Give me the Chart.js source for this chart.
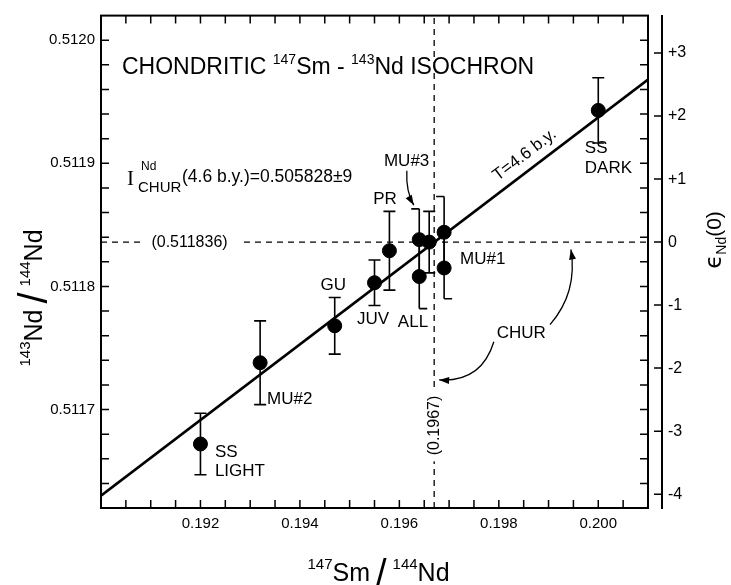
<!DOCTYPE html>
<html>
<head>
<meta charset="utf-8">
<script src="https://cdn.jsdelivr.net/npm/chart.js@4/dist/chart.umd.min.js"></script>
<style>
  html, body { margin: 0; padding: 0; background: #fff; }
  #wrap { width: 731px; height: 585px; }
</style>
</head>
<body>
<div id="wrap"><canvas id="myChart"></canvas></div>
<script>
// samples (147Sm/144Nd, 143Nd/144Nd, 2 sigma)
const sampleNames = ["SS LIGHT", "MU#2", "GU", "JUV", "PR", "MU#3", "ALL", "ALL b", "MU#1 a", "MU#1", "SS DARK"];
const smNd = [0.1920, 0.1932, 0.1947, 0.1955, 0.1958, 0.1964, 0.1964, 0.1966, 0.1969, 0.1969, 0.2000];
const ndNd = [0.511672, 0.511738, 0.511768, 0.511803, 0.511829, 0.511838, 0.511808, 0.511836, 0.511844, 0.511815, 0.511943];
const ndErr = [0.000025, 0.000034, 0.000023, 0.0000185, 0.000032, 0.000025, 0.000026, 0.000025, 0.000029, 0.000025, 0.0000265];
// which caps each bar gets: both / top cap to the left only / bottom cap to the right only
const capSide = ["both", "both", "both", "both", "both", "topLeft", "bottomRight", "both", "topLeft", "bottomRight", "both"];

// 4.6 b.y. isochron end points
const isoX = [0.190, 0.201];
const isoY = [0.51163, 0.511968];

const churSmNd = 0.1967;
const churNdNd = 0.511836;

const xTicks = [0.192, 0.194, 0.196, 0.198, 0.200];
const xTickLabels = ["0.192", "0.194", "0.196", "0.198", "0.200"];
const yTicks = [0.5117, 0.5118, 0.5119, 0.5120];
const yTickLabels = ["0.5117", "0.5118", "0.5119", "0.5120"];
const epsTicks = [-4, -3, -2, -1, 0, 1, 2, 3];
const epsTickLabels = ["-4", "-3", "-2", "-1", "0", "+1", "+2", "+3"];

const xMin = 0.190, xMax = 0.201;
const yMin = 0.51162, yMax = 0.51202;
const toEps = r => (r / churNdNd - 1) * 1e4;

const FONT = "Liberation Sans";

// text put on the plot, in data units
const notes = [
  { t: "SS", x: 0.19229, y: 0.511665 },
  { t: "LIGHT", x: 0.19229, y: 0.51165 },
  { t: "MU#2", x: 0.19334, y: 0.511708 },
  { t: "GU", x: 0.19467, y: 0.511801, align: "center" },
  { t: "JUV", x: 0.19515, y: 0.511773 },
  { t: "ALL", x: 0.19597, y: 0.511771 },
  { t: "PR", x: 0.19571, y: 0.511871, align: "center" },
  { t: "MU#3", x: 0.19569, y: 0.511902 },
  { t: "MU#1", x: 0.19722, y: 0.511822 },
  { t: "SS", x: 0.19973, y: 0.511912 },
  { t: "DARK", x: 0.19973, y: 0.511896 },
  { t: "CHUR", x: 0.19845, y: 0.511762, align: "center" }
];

const arrows = [
  { from: [0.19615, 0.511894], ctrl: [0.19613, 0.511877], to: [0.19629, 0.511866] },
  { from: [0.19903, 0.511769], ctrl: [0.19959, 0.511795], to: [0.19945, 0.51183] },
  { from: [0.19790, 0.511755], ctrl: [0.19765, 0.511722], to: [0.19680, 0.511724] }
];

function richText(ctx, parts, x, y, align) {
  let w = 0;
  for (const p of parts) {
    ctx.font = p.size + "px " + (p.family || FONT);
    p.w = ctx.measureText(p.t).width + (p.gap || 0);
    w += p.w;
  }
  let cx = align === "center" ? x - w / 2 : x;
  for (const p of parts) {
    ctx.font = p.size + "px " + (p.family || FONT);
    ctx.fillText(p.t, cx + (p.gap || 0) / 2, y + (p.dy || 0));
    cx += p.w;
  }
}

const errorBars = {
  id: "errorBars",
  beforeDatasetsDraw(chart) {
    const { ctx, scales: { x, y } } = chart;
    ctx.save();
    ctx.strokeStyle = "#000";
    ctx.lineWidth = 1.6;
    smNd.forEach((v, i) => {
      const px = x.getPixelForValue(v);
      const top = y.getPixelForValue(ndNd[i] + ndErr[i]);
      const bot = y.getPixelForValue(ndNd[i] - ndErr[i]);
      ctx.beginPath();
      ctx.moveTo(px, top);
      ctx.lineTo(px, bot);
      if (capSide[i] === "both") {
        ctx.moveTo(px - 6, top); ctx.lineTo(px + 6, top);
        ctx.moveTo(px - 6, bot); ctx.lineTo(px + 6, bot);
      } else if (capSide[i] === "topLeft") {
        ctx.moveTo(px - 8, top); ctx.lineTo(px, top);
      } else {
        ctx.moveTo(px, bot); ctx.lineTo(px + 8, bot);
      }
      ctx.stroke();
    });
    ctx.restore();
  }
};

const frameAndText = {
  id: "frameAndText",
  afterDatasetsDraw(chart) {
    const { ctx, chartArea: a, scales } = chart;
    const x = scales.x, y = scales.y, eps = scales.eps;
    ctx.save();
    ctx.strokeStyle = "#000";
    ctx.fillStyle = "#000";

    // frame
    ctx.lineWidth = 2;
    ctx.strokeRect(a.left, a.top, a.right - a.left, a.bottom - a.top);

    // inward ticks
    ctx.lineWidth = 1.5;
    ctx.beginPath();
    const nx = Math.round((xMax - xMin) / 0.0005);
    for (let i = 1; i < nx; i++) {
      const px = x.getPixelForValue(xMin + i * 0.0005);
      ctx.moveTo(px, a.bottom); ctx.lineTo(px, a.bottom - 8);
      ctx.moveTo(px, a.top); ctx.lineTo(px, a.top + 8);
    }
    const ny = Math.round((yMax - yMin) / 0.00002);
    for (let i = 1; i < ny; i++) {
      const py = y.getPixelForValue(yMin + i * 0.00002);
      ctx.moveTo(a.left, py); ctx.lineTo(a.left + 8, py);
      ctx.moveTo(a.right, py); ctx.lineTo(a.right - 8, py);
    }
    epsTicks.forEach(v => {
      const py = eps.getPixelForValue(v);
      ctx.moveTo(eps.left, py); ctx.lineTo(eps.left - 8, py);
    });
    ctx.stroke();

    // labels on the dashed lines
    ctx.textBaseline = "middle";
    ctx.font = "16px " + FONT;
    let t = "(0.511836)";
    let w = ctx.measureText(t).width;
    let cx = x.getPixelForValue(0.19178), cy = y.getPixelForValue(churNdNd);
    ctx.fillStyle = "#fff";
    ctx.fillRect(cx - w / 2 - 10, cy - 4, w + 22, 8);
    ctx.fillStyle = "#000";
    ctx.textAlign = "center";
    ctx.fillText(t, cx, cy);

    t = "(0.1967)";
    w = ctx.measureText(t).width;
    ctx.save();
    ctx.translate(x.getPixelForValue(churSmNd), y.getPixelForValue(0.511687));
    ctx.rotate(-Math.PI / 2);
    ctx.fillStyle = "#fff";
    ctx.fillRect(-w / 2 - 6, -4, w + 12, 8);
    ctx.fillStyle = "#000";
    ctx.fillText(t, 0, 0);
    ctx.restore();

    // sample labels
    ctx.font = "17px " + FONT;
    notes.forEach(n => {
      ctx.textAlign = n.align || "left";
      ctx.fillText(n.t, x.getPixelForValue(n.x), y.getPixelForValue(n.y));
    });

    // T=4.6 b.y. along the isochron
    const x1 = x.getPixelForValue(isoX[0]), y1 = y.getPixelForValue(isoY[0]);
    const x2 = x.getPixelForValue(isoX[1]), y2 = y.getPixelForValue(isoY[1]);
    const ang = Math.atan2(y2 - y1, x2 - x1);
    const f = (0.1987 - isoX[0]) / (isoX[1] - isoX[0]);
    const lx = x1 + f * (x2 - x1), ly = y1 + f * (y2 - y1);
    ctx.save();
    ctx.translate(lx + Math.sin(ang) * 10, ly - Math.cos(ang) * 10);
    ctx.rotate(ang);
    ctx.textAlign = "center";
    ctx.textBaseline = "alphabetic";
    ctx.font = "17px " + FONT;
    ctx.fillText("T=4.6 b.y.", 0, 0);
    ctx.restore();

    // arrows
    ctx.lineWidth = 1.3;
    arrows.forEach(ar => {
      const p0 = [x.getPixelForValue(ar.from[0]), y.getPixelForValue(ar.from[1])];
      const pc = [x.getPixelForValue(ar.ctrl[0]), y.getPixelForValue(ar.ctrl[1])];
      const p1 = [x.getPixelForValue(ar.to[0]), y.getPixelForValue(ar.to[1])];
      ctx.beginPath();
      ctx.moveTo(p0[0], p0[1]);
      ctx.quadraticCurveTo(pc[0], pc[1], p1[0], p1[1]);
      ctx.stroke();
      const a2 = Math.atan2(p1[1] - pc[1], p1[0] - pc[0]);
      ctx.beginPath();
      ctx.moveTo(p1[0], p1[1]);
      ctx.lineTo(p1[0] - 10 * Math.cos(a2) + 3.5 * Math.sin(a2), p1[1] - 10 * Math.sin(a2) - 3.5 * Math.cos(a2));
      ctx.lineTo(p1[0] - 10 * Math.cos(a2) - 3.5 * Math.sin(a2), p1[1] - 10 * Math.sin(a2) + 3.5 * Math.cos(a2));
      ctx.closePath();
      ctx.fill();
    });

    // heading
    ctx.textAlign = "left";
    ctx.textBaseline = "alphabetic";
    richText(ctx, [
      { t: "CHONDRITIC ", size: 23 },
      { t: "147", size: 14, dy: -10 },
      { t: "Sm - ", size: 23 },
      { t: "143", size: 14, dy: -10 },
      { t: "Nd ISOCHRON", size: 23 }
    ], 122, 74);

    // I CHUR note
    ctx.font = "21px Liberation Serif";
    ctx.fillText("I", 127, 185);
    ctx.font = "12px " + FONT;
    ctx.fillText("Nd", 141, 170);
    ctx.font = "15px " + FONT;
    ctx.fillText("CHUR", 138, 192);
    ctx.font = "17.5px " + FONT;
    ctx.fillText("(4.6 b.y.)=0.505828\u00b19", 182, 182);

    // axis titles
    const bx = (a.left + a.right) / 2;
    richText(ctx, [
      { t: "147", size: 15, dy: -12 },
      { t: "Sm", size: 25 },
      { t: "/", size: 38, dy: 5, gap: 12 },
      { t: "144", size: 15, dy: -12 },
      { t: "Nd", size: 25 }
    ], bx + 4, 581, "center");

    ctx.save();
    ctx.translate(42, 298);
    ctx.rotate(-Math.PI / 2);
    richText(ctx, [
      { t: "143", size: 15, dy: -12 },
      { t: "Nd", size: 25 },
      { t: "/", size: 40, dy: 5, gap: 12 },
      { t: "144", size: 15, dy: -12 },
      { t: "Nd", size: 25 }
    ], 0, 0, "center");
    ctx.restore();

    ctx.save();
    ctx.translate(721, 240);
    ctx.rotate(-Math.PI / 2);
    richText(ctx, [
      { t: "\u03f5", size: 23, family: "DejaVu Sans" },
      { t: "Nd", size: 14, dy: 5 },
      { t: "(0)", size: 21 }
    ], 0, 0, "center");
    ctx.restore();

    ctx.restore();
  }
};

const tickFont = { family: FONT, size: 15 };

new Chart(document.getElementById("myChart"), {
  type: "scatter",
  data: {
    datasets: [
      {
        label: "samples",
        data: smNd.map((v, i) => ({ x: v, y: ndNd[i] })),
        pointRadius: 7,
        pointHoverRadius: 7,
        backgroundColor: "#000",
        borderColor: "#000"
      },
      {
        label: "isochron",
        data: isoX.map((v, i) => ({ x: v, y: isoY[i] })),
        showLine: true,
        borderColor: "#000",
        borderWidth: 2.6,
        pointRadius: 0
      },
      {
        label: "CHUR 143Nd/144Nd",
        data: [{ x: xMin, y: churNdNd }, { x: xMax, y: churNdNd }],
        showLine: true,
        borderColor: "#000",
        borderWidth: 1.3,
        borderDash: [6, 5],
        pointRadius: 0
      },
      {
        label: "CHUR 147Sm/144Nd",
        data: [{ x: churSmNd, y: yMin }, { x: churSmNd, y: yMax }],
        showLine: true,
        borderColor: "#000",
        borderWidth: 1.3,
        borderDash: [6, 5],
        pointRadius: 0
      }
    ]
  },
  options: {
    responsive: true,
    maintainAspectRatio: false,
    animation: false,
    layout: { padding: { top: 10 } },
    plugins: { legend: { display: false }, tooltip: { enabled: false } },
    scales: {
      x: {
        type: "linear",
        position: "bottom",
        min: xMin,
        max: xMax,
        afterBuildTicks: s => { s.ticks = xTicks.map(v => ({ value: v })); },
        ticks: {
          callback: v => xTickLabels[xTicks.indexOf(v)],
          font: tickFont,
          color: "#000",
          padding: 7,
          maxRotation: 0,
          autoSkip: false
        },
        grid: { display: false, drawTicks: false },
        border: { display: false },
        afterFit: s => { s.height = 77; }
      },
      y: {
        type: "linear",
        position: "left",
        min: yMin,
        max: yMax,
        afterBuildTicks: s => { s.ticks = yTicks.map(v => ({ value: v })); },
        ticks: {
          callback: v => yTickLabels[yTicks.indexOf(v)],
          font: tickFont,
          color: "#000",
          padding: 6
        },
        grid: { display: false, drawTicks: false },
        border: { display: false },
        afterFit: s => { s.width = 101; }
      },
      pad: {
        type: "linear",
        axis: "y",
        position: "right",
        weight: 0,
        grid: { display: false, drawTicks: false },
        border: { display: false },
        ticks: { display: false },
        afterFit: s => { s.width = 14; }
      },
      eps: {
        type: "linear",
        axis: "y",
        position: "right",
        weight: 1,
        min: toEps(yMin),
        max: toEps(yMax),
        afterBuildTicks: s => { s.ticks = epsTicks.map(v => ({ value: v })); },
        ticks: {
          callback: v => epsTickLabels[epsTicks.indexOf(v)],
          font: { family: FONT, size: 16 },
          color: "#000",
          padding: 6
        },
        grid: { display: false, drawTicks: false },
        border: { display: true, color: "#000", width: 2 },
        afterFit: s => { s.width = 69; }
      }
    }
  },
  plugins: [errorBars, frameAndText]
});
</script>
</body>
</html>
